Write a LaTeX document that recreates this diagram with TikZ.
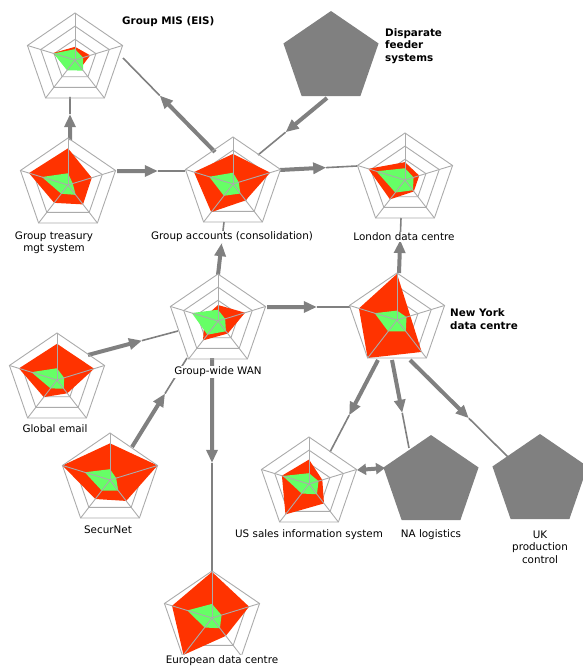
\documentclass[tikz,border=0pt]{standalone}
\usepackage{fontspec}
\setmainfont{DejaVu Sans}
\usetikzlibrary{arrows.meta,calc}
\definecolor{radred}{HTML}{FF3300}
\definecolor{radgreen}{HTML}{66FF66}
\definecolor{gridgrey}{HTML}{ABABAB}
\definecolor{flowgrey}{HTML}{808080}
\def\Rx{50}\def\Ry{47}
\newcommand\rpoly[6]{\path[#1] (0,{-(#2)*\Ry}) -- ({.951*(#3)*\Rx},{-.309*(#3)*\Ry}) -- ({.588*(#4)*\Rx},{.809*(#4)*\Ry}) -- ({-.588*(#5)*\Rx},{.809*(#5)*\Ry}) -- ({-.951*(#6)*\Rx},{-.309*(#6)*\Ry}) -- cycle;}
\newcommand\radar[3]{%
  \begin{scope}[shift={(#1.center)}]
    \foreach \l in {0.72,0.44,0.16} {\rpoly{draw=gridgrey,line width=0.9bp}{\l}{\l}{\l}{\l}{\l}}
    \rpoly{fill=radred}#2
    \rpoly{fill=radgreen}#3
    \foreach \a/\b in {0/-1,.951/-.309,.588/.809,-.588/.809,-.951/-.309}
      {\draw[draw=gridgrey,line width=0.9bp] (0,0) -- ({\a*\Rx},{\b*\Ry});}
    \rpoly{draw=gridgrey,line width=0.9bp}{1}{1}{1}{1}{1}
  \end{scope}}
\newcommand\greypent[1]{%
  \begin{scope}[shift={(#1.center)}]
    \rpoly{fill=flowgrey}{1}{1}{1}{1}{1}
  \end{scope}}
\newcommand\flow[3][0.6]{%
  \draw[flowthick] (#2) -- ($(#2)!#1!(#3)$);
  \draw[flowthin] ($(#2)!#1!(#3)$) -- (#3);}
\tikzset{
  hub/.style={shape=rectangle,draw=none,inner sep=0pt,minimum width=100bp,minimum height=94bp},
  flowthick/.style={draw=flowgrey,line width=4bp,-{Triangle[length=13bp,width=11bp]}},
  flowthin/.style={draw=flowgrey,line width=1.6bp},
  duo/.style={draw=flowgrey,line width=4bp,{Triangle[length=9bp,width=11bp]}-{Triangle[length=9bp,width=11bp]}},
  lab/.style={fill=white,inner sep=1bp,text=black,align=center},
  bf/.style={font=\fontsize{10.4}{12.5}\selectfont\bfseries}
}
\begin{document}
\begin{tikzpicture}[x=1bp,y=-1bp,font=\fontsize{10.4}{12.5}\selectfont]
\useasboundingbox (0,0) rectangle (583,668);
% nodes (positions)
\node[hub] (mis) at (75,60) {};
\node[hub] (treas) at (68,185) {};
\node[hub] (acc) at (233,184) {};
\node[hub] (disp) at (331,58) {};
\node[hub] (lon) at (405,180) {};
\node[hub] (wan) at (218,321) {};
\node[hub] (ny) at (397,320) {};
\node[hub] (email) at (57,380) {};
\node[hub] (sec) at (110,480) {};
\node[hub] (us) at (309,484) {};
\node[hub] (na) at (431,482) {};
\node[hub] (uk) at (540,481) {};
\node[hub] (eur) at (212,618) {};
% ports
\coordinate (pAccMis) at ($(acc.center)+(-18,-32)$);
\coordinate (pMisAcc) at ($(mis.center)+(48,-2)$);
\coordinate (pTreasMis) at ($(treas.center)+(2,-45)$);
\coordinate (pMisTreas) at ($(mis.center)+(-5,37)$);
\coordinate (pTreasAcc) at ($(treas.center)+(49,-14)$);
\coordinate (pAccTreas) at ($(acc.center)+(-48,-13)$);
\coordinate (pDispAcc) at ($(disp.center)+(-4,40)$);
\coordinate (pAccDisp) at ($(acc.center)+(25,-29)$);
\coordinate (pAccLon) at ($(acc.center)+(47,-14)$);
\coordinate (pLonAcc) at ($(lon.center)+(-48,-14)$);
\coordinate (pWanAcc) at ($(wan.center)+(0,-46)$);
\coordinate (pAccWan) at ($(acc.center)+(-9,38)$);
\coordinate (pWanNy) at ($(wan.center)+(49,-14)$);
\coordinate (pNyWan) at ($(ny.center)+(-47,-13)$);
\coordinate (pNyLon) at ($(ny.center)+(2,-47)$);
\coordinate (pLonNy) at ($(lon.center)+(-4,38)$);
\coordinate (pEmailWan) at ($(email.center)+(31,-25)$);
\coordinate (pWanEmail) at ($(wan.center)+(-40,10)$);
\coordinate (pSecWan) at ($(sec.center)+(22,-33)$);
\coordinate (pWanSec) at ($(wan.center)+(-31,37)$);
\coordinate (pWanEur) at ($(wan.center)+(-6,37)$);
\coordinate (pEurWan) at ($(eur.center)+(0,-46)$);
\coordinate (pNyUs) at ($(ny.center)+(-19,40)$);
\coordinate (pUsNy) at ($(us.center)+(21,-32)$);
\coordinate (pNyNa) at ($(ny.center)+(-5,40)$);
\coordinate (pNaNy) at ($(na.center)+(-22,-34)$);
\coordinate (pNyUk) at ($(ny.center)+(13,40)$);
\coordinate (pUkNy) at ($(uk.center)+(-32,-24)$);
\coordinate (pUsNa) at ($(us.center)+(48,-14)$);
\coordinate (pNaUs) at ($(na.center)+(-46,-14)$);
% connectors
\flow{pAccMis}{pMisAcc}
\flow{pTreasMis}{pMisTreas}
\flow{pTreasAcc}{pAccTreas}
\flow{pDispAcc}{pAccDisp}
\flow{pAccLon}{pLonAcc}
\flow{pWanAcc}{pAccWan}
\flow{pWanNy}{pNyWan}
\flow{pNyLon}{pLonNy}
\flow{pEmailWan}{pWanEmail}
\flow{pSecWan}{pWanSec}
\flow[0.49]{pWanEur}{pEurWan}
\flow{pNyUs}{pUsNy}
\flow{pNyNa}{pNaNy}
\flow{pNyUk}{pUkNy}
\draw[duo] (pUsNa) -- (pNaUs);
% radar charts
\radar{mis}{{0.28}{0.32}{0.2}{0.2}{0.47}}{{0.23}{0.17}{0.28}{0.27}{0.45}}
\radar{treas}{{0.78}{0.5}{0.51}{0.47}{0.82}}{{0.25}{0.1}{0.26}{0.23}{0.55}}
\radar{acc}{{0.64}{0.78}{0.43}{0.74}{0.82}}{{0.24}{0.12}{0.25}{0.31}{0.5}}
\radar{lon}{{0.38}{0.3}{0.3}{0.51}{0.77}}{{0.25}{0.18}{0.27}{0.33}{0.6}}
\radar{wan}{{0.34}{0.57}{0.33}{0.51}{0.28}}{{0.24}{0.15}{0.27}{0.36}{0.55}}
\radar{ny}{{0.98}{0.28}{0.84}{1.0}{0.8}}{{0.2}{0.2}{0.3}{0.3}{0.47}}
\radar{email}{{0.77}{0.78}{0.35}{0.45}{0.8}}{{0.25}{0.15}{0.23}{0.22}{0.54}}
\radar{sec}{{0.78}{1.0}{0.55}{0.5}{1.0}}{{0.23}{0.13}{0.28}{0.28}{0.53}}
\radar{us}{{0.52}{0.28}{0.51}{0.8}{0.57}}{{0.23}{0.2}{0.27}{0.25}{0.55}}
\radar{eur}{{0.98}{0.78}{0.47}{0.97}{0.84}}{{0.3}{0.2}{0.27}{0.25}{0.52}}
% grey pentagons
\greypent{disp}
\greypent{na}
\greypent{uk}
% labels
\node[lab,bf,anchor=west] (lmis) at (121,22) {Group MIS (EIS)};
\node[lab,bf,anchor=west,align=left] (ldisp) at (384,46) {Disparate\\feeder\\systems};
\node[lab] (ltreas) at (54,243) {Group treasury\\mgt system};
\node[lab] (lacc) at (232,237) {Group accounts (consolidation)};
\node[lab] (llon) at (404,237) {London data centre};
\node[lab] (lwan) at (218,372) {Group-wide WAN};
\node[lab,bf,anchor=west,align=left] (lny) at (449,319) {New York\\data centre};
\node[lab] (lemail) at (55,429) {Global email};
\node[lab] (lsec) at (108,530) {SecurNet};
\node[lab] (lus) at (309,535) {US sales information system};
\node[lab] (lna) at (431,535) {NA logistics};
\node[lab] (luk) at (540,547) {UK\\production\\control};
\node[lab] (leur) at (222,661) {European data centre};
\end{tikzpicture}
\end{document}
